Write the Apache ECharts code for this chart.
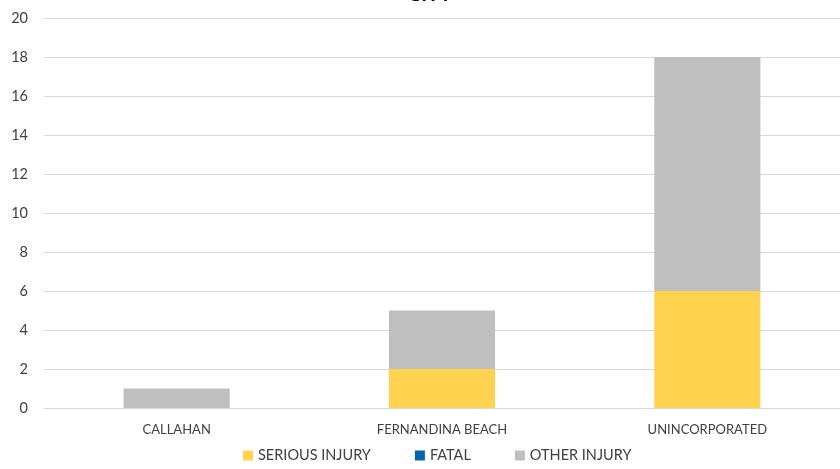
<!DOCTYPE html>
<html><head><meta charset="utf-8">
<script src="https://cdn.jsdelivr.net/npm/echarts@6/dist/echarts.min.js"></script>
<style>html,body{margin:0;padding:0;background:#fff}#c{width:840px;height:469px}</style>
</head><body><div id="c"></div>
<script>
const categories = ['CALLAHAN', 'FERNANDINA BEACH', 'UNINCORPORATED'];
const seriousInjury = [0, 2, 6];
const fatal = [0, 0, 0];
const otherInjury = [1, 3, 12];
const yTicks = {min: 0, max: 20, interval: 2};

const font = 'Lato, "Open Sans", sans-serif';
const chart = echarts.init(document.getElementById('c'));
chart.setOption({
  animation: false,
  title: {text: 'CITY', left: 425, textAlign: 'center', top: -20.5,
    textStyle: {fontFamily: font, fontSize: 20, fontWeight: 'bold', color: '#000'}},
  grid: {left: 44, right: -2, top: 18, bottom: 61, containLabel: false},
  legend: {bottom: 1, left: 238, itemWidth: 10, itemHeight: 10, itemGap: 44,
    icon: 'rect', textStyle: {fontFamily: font, fontSize: 14.5, color: '#404040'},
    data: ['SERIOUS INJURY', 'FATAL', 'OTHER INJURY']},
  xAxis: {type: 'category', data: categories,
    axisLine: {lineStyle: {color: '#d9d9d9'}}, axisTick: {show: false},
    axisLabel: {fontFamily: font, fontSize: 13, color: '#404040', margin: 15}},
  yAxis: {type: 'value', min: yTicks.min, max: yTicks.max, interval: yTicks.interval,
    axisLine: {show: false}, axisTick: {show: false},
    splitLine: {lineStyle: {color: '#d9d9d9', width: 1}},
    axisLabel: {fontFamily: font, fontSize: 14.5, color: '#404040', margin: 16}},
  series: [
    {name: 'SERIOUS INJURY', type: 'bar', stack: 's', data: seriousInjury, barCategoryGap: '60%', itemStyle: {color: '#FFD34F'}},
    {name: 'FATAL', type: 'bar', stack: 's', data: fatal, itemStyle: {color: '#0563B0'}},
    {name: 'OTHER INJURY', type: 'bar', stack: 's', data: otherInjury, itemStyle: {color: '#BFBFBF'}}
  ]
});
</script></body></html>
